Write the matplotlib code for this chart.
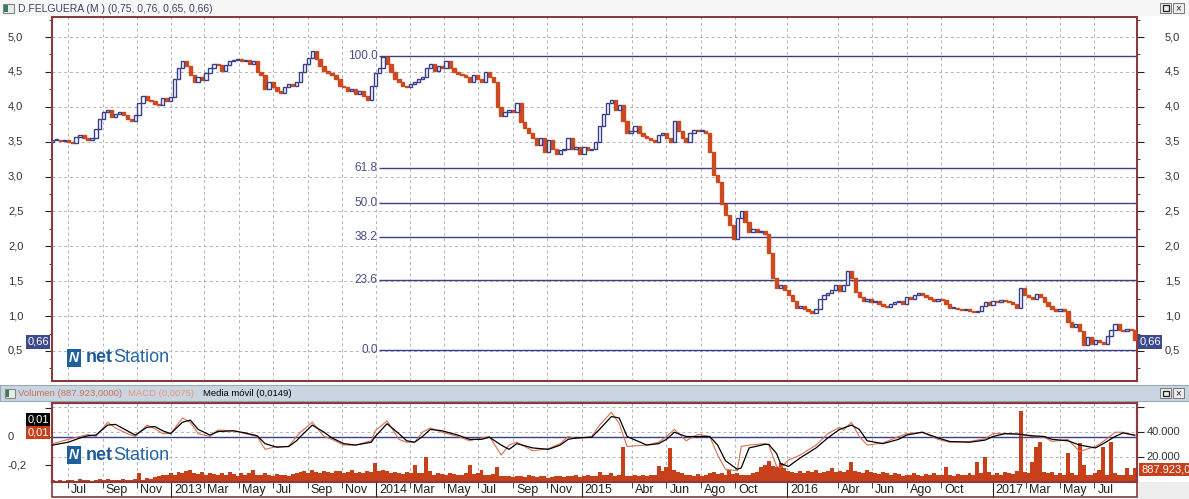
import numpy as np
import pandas as pd
import matplotlib
matplotlib.use('Agg')
import matplotlib.pyplot as plt
import matplotlib.dates as mdates
import matplotlib.transforms as mtrans
from matplotlib.patches import Rectangle

plt.rcParams['font.family'] = ['Liberation Sans', 'DejaVu Sans']

# weekly closes (Jun 2012 - Sep 2017)
close = [3.52, 3.53, 3.51, 3.53, 3.50, 3.48, 3.56, 3.60, 3.55, 3.52,
         3.55, 3.68, 3.83, 3.92, 3.95, 3.85, 3.90, 3.93, 3.88, 3.83,
         3.80, 3.88, 4.05, 4.15, 4.10, 4.08, 4.04, 4.02, 4.12, 4.08,
         4.14, 4.40, 4.55, 4.66, 4.58, 4.45, 4.35, 4.42, 4.38, 4.48,
         4.55, 4.62, 4.60, 4.52, 4.60, 4.66, 4.67, 4.68, 4.66, 4.67,
         4.62, 4.65, 4.50, 4.45, 4.25, 4.35, 4.28, 4.22, 4.20, 4.28,
         4.32, 4.30, 4.35, 4.50, 4.62, 4.70, 4.80, 4.68, 4.58, 4.52,
         4.48, 4.45, 4.40, 4.30, 4.28, 4.22, 4.25, 4.18, 4.22, 4.15,
         4.10, 4.30, 4.48, 4.55, 4.72, 4.62, 4.50, 4.40, 4.35, 4.30,
         4.28, 4.32, 4.36, 4.40, 4.42, 4.55, 4.62, 4.52, 4.58, 4.55,
         4.65, 4.55, 4.50, 4.47, 4.45, 4.42, 4.35, 4.45, 4.40, 4.36,
         4.50, 4.42, 4.35, 4.00, 3.87, 3.92, 3.95, 3.93, 4.05, 3.78,
         3.70, 3.62, 3.55, 3.45, 3.55, 3.35, 3.52, 3.40, 3.33, 3.38,
         3.40, 3.55, 3.40, 3.42, 3.33, 3.42, 3.38, 3.40, 3.50, 3.72,
         3.90, 4.05, 4.10, 3.95, 4.02, 3.80, 3.62, 3.65, 3.72, 3.62,
         3.58, 3.55, 3.52, 3.50, 3.60, 3.62, 3.55, 3.50, 3.80, 3.65,
         3.55, 3.50, 3.62, 3.67, 3.65, 3.66, 3.62, 3.35, 3.02, 2.92,
         2.60, 2.45, 2.30, 2.10, 2.40, 2.50, 2.35, 2.20, 2.25, 2.20,
         2.22, 2.18, 1.90, 1.55, 1.40, 1.45, 1.38, 1.30, 1.22, 1.12,
         1.15, 1.10, 1.08, 1.05, 1.10, 1.25, 1.30, 1.33, 1.38, 1.45,
         1.36, 1.45, 1.65, 1.55, 1.35, 1.28, 1.22, 1.25, 1.20, 1.22,
         1.18, 1.15, 1.13, 1.18, 1.20, 1.22, 1.18, 1.28, 1.25, 1.30,
         1.33, 1.30, 1.27, 1.25, 1.22, 1.24, 1.23, 1.18, 1.12, 1.12,
         1.10, 1.09, 1.10, 1.08, 1.06, 1.07, 1.15, 1.20, 1.16, 1.22,
         1.20, 1.23, 1.22, 1.20, 1.18, 1.12, 1.40, 1.30, 1.27, 1.25,
         1.32, 1.28, 1.20, 1.15, 1.10, 1.08, 1.10, 1.08, 0.92, 0.85,
         0.88, 0.78, 0.58, 0.70, 0.60, 0.66, 0.63, 0.60, 0.72, 0.80,
         0.88, 0.80, 0.78, 0.82, 0.80, 0.66]
first_open = 3.50

volume = [1500, 1200, 1800, 1000, 2000, 1500, 1200, 2500, 1800, 1500,
          1200, 2000, 2500, 1800, 2200, 1500, 2000, 1800, 2500, 2000,
          1800, 2500, 7000, 2000, 3000, 2500, 4000, 5000, 6000, 5500,
          7000, 6000, 8000, 7500, 9000, 10000, 7000, 6500, 8000, 6000,
          7000, 6500, 5500, 7000, 6000, 8000, 6500, 5000, 7000, 6000,
          7500, 10000, 6000, 5500, 7000, 6000, 5000, 6500, 5500, 6000,
          5000, 6500, 7000, 8000, 9000, 7500, 10000, 8000, 7000, 9000,
          8000, 7500, 9000, 8500, 7000, 8000, 9500, 7000, 8000, 7500,
          9000, 8000, 15000, 8500, 10000, 9000, 7500, 8000, 7000, 6500,
          8000, 7000, 14000, 7500, 7000, 20000, 9000, 6000, 7000, 6500,
          6000, 7000, 6500, 5500, 6000, 7000, 14000, 6500, 7000, 10000,
          6000, 5500, 6500, 12000, 5000, 4500, 5000, 4000, 4500, 5000,
          4000, 5500, 4500, 4000, 5000, 4500, 3500, 4000, 5000, 4500,
          4000, 5000, 4500, 5500, 4000, 5000, 6000, 4500, 5000, 8000,
          5500, 6000, 7000, 5000, 6000, 28000, 5000, 4500, 5500, 5000,
          6000, 5000, 5500, 6000, 13000, 9000, 12000, 27000, 10000, 8000,
          7000, 6000, 5500, 5000, 6500, 5000, 6000, 7000, 8000, 6500,
          7000, 6000, 10000, 6500, 7000, 6000, 5500, 6000, 7000, 8000,
          12000, 14000, 17000, 13000, 12000, 15000, 11000, 9000, 8000, 7000,
          8500, 7000, 9000, 8000, 10000, 7500, 8000, 9000, 11000, 8000,
          9000, 8000, 10000, 16000, 9000, 8000, 7000, 9500, 8000, 7000,
          6500, 8000, 7000, 6000, 7500, 6500, 5000, 6000, 5500, 7000,
          6000, 5000, 6500, 5500, 7000, 6000, 5500, 12000, 6000, 5000,
          6500, 5500, 6000, 7000, 6000, 16000, 7000, 20000, 8000, 6000,
          7000, 6000, 8000, 7000, 6500, 9000, 57000, 8000, 7000, 16000,
          28000, 32000, 8000, 7000, 8000, 6000, 7000, 6000, 23000, 7000,
          6000, 31000, 14000, 6000, 5500, 7000, 10000, 28000, 6000, 32000,
          7000, 6000, 5500, 11000, 6000, 11000]

# MACD and its moving average, sampled at these week numbers
macd_week = [0, 4, 7, 9, 11, 14, 16, 19, 21, 24,
             26, 28, 30, 33, 35, 37, 40, 42, 46, 49,
             52, 54, 57, 60, 62, 63, 66, 69, 71, 74,
             77, 81, 82, 85, 88, 90, 92, 94, 96, 99,
             103, 106, 109, 111, 114, 116, 118, 122, 126, 129,
             131, 133, 137, 139, 142, 144, 146, 151, 154, 156,
             158, 161, 164, 167, 169, 171, 174, 175, 177, 181,
             182, 184, 185, 187, 190, 194, 197, 200, 201, 203,
             205, 207, 211, 215, 217, 221, 225, 228, 233, 237,
             239, 242, 245, 249, 252, 254, 258, 261, 265, 267,
             270, 272, 275]
macd_line = [-0.05, -0.02, 0.0, 0.015, 0.0, 0.10, 0.06, 0.02, 0.0, 0.08,
             0.055, 0.02, 0.02, 0.13, 0.10, 0.02, 0.0, 0.045, 0.04, 0.02,
             0.0, -0.09, -0.07, -0.07, 0.0, 0.03, 0.10, 0.0, -0.02, -0.06,
             -0.06, -0.03, 0.04, 0.11, -0.02, -0.04, -0.04, 0.03, 0.06, 0.03,
             0.0, -0.03, -0.01, 0.0, -0.13, -0.06, -0.04, -0.10, -0.085, -0.05,
             0.0, -0.015, 0.0, 0.08, 0.17, 0.09, -0.07, -0.06, -0.04, 0.0,
             0.05, -0.03, 0.015, 0.0, -0.13, -0.23, -0.24, -0.07, -0.06, -0.05,
             -0.06, -0.21, -0.22, -0.165, -0.13, -0.06, 0.02, 0.065, 0.045, 0.10,
             0.0, -0.06, -0.045, 0.0, 0.02, 0.03, -0.02, -0.04, -0.035, -0.015,
             0.02, 0.02, 0.015, 0.0, -0.005, -0.035, -0.02, -0.105, -0.07, -0.035,
             0.03, 0.03, 0.005]
macd_signal = [-0.06, -0.04, -0.01, 0.005, 0.01, 0.08, 0.085, 0.04, 0.01, 0.065,
               0.07, 0.04, 0.02, 0.10, 0.115, 0.05, 0.01, 0.035, 0.04, 0.025,
               0.005, -0.05, -0.075, -0.07, -0.03, 0.0, 0.08, 0.03, -0.01, -0.05,
               -0.06, -0.04, 0.0, 0.09, 0.02, -0.03, -0.04, 0.0, 0.05, 0.04,
               0.01, -0.02, -0.02, -0.005, -0.06, -0.09, -0.05, -0.08, -0.09, -0.06,
               -0.02, -0.01, -0.005, 0.05, 0.14, 0.13, 0.0, -0.06, -0.05, -0.02,
               0.03, 0.0, 0.0, 0.0, -0.06, -0.17, -0.23, -0.22, -0.08, -0.055,
               -0.055, -0.12, -0.19, -0.21, -0.15, -0.08, -0.01, 0.05, 0.06, 0.08,
               0.05, -0.03, -0.05, -0.02, 0.01, 0.03, -0.01, -0.035, -0.04, -0.025,
               0.0, 0.02, 0.018, 0.005, 0.0, -0.02, -0.03, -0.06, -0.08, -0.05,
               0.0, 0.025, 0.01]

fib_levels = [0.0, 23.6, 38.2, 50.0, 61.8, 100.0]
fib_low, fib_high = 0.52, 4.73
fib_start = '2014-01-06'

tick_months = ['2012-07-01', '2012-09-01', '2012-11-01', '2013-01-01', '2013-03-01',
               '2013-05-01', '2013-07-01', '2013-09-01', '2013-11-01', '2014-01-01',
               '2014-03-01', '2014-05-01', '2014-07-01', '2014-09-01', '2014-11-01',
               '2015-01-01', '2015-04-01', '2015-06-01', '2015-08-01', '2015-10-01',
               '2016-01-01', '2016-04-01', '2016-06-01', '2016-08-01', '2016-10-01',
               '2017-01-01', '2017-03-01', '2017-05-01', '2017-07-01']
tick_labels = ['Jul', 'Sep', 'Nov', '2013', 'Mar', 'May', 'Jul', 'Sep', 'Nov', '2014',
               'Mar', 'May', 'Jul', 'Sep', 'Nov', '2015', 'Abr', 'Jun', 'Ago', 'Oct',
               '2016', 'Abr', 'Jun', 'Ago', 'Oct', '2017', 'Mar', 'May', 'Jul']

title = 'D.FELGUERA (M ) (0,75, 0,76, 0,65, 0,66)'
last_price = '0,66'

orange = '#cc4a1e'
navy = '#3b3f8a'
maroon = '#8a3b3b'
gridc = '#b4b4b4'
dash = (0, (3, 3))

W, H = 1189, 499
fig = plt.figure(figsize=(W / 100, H / 100), dpi=100)
fig.patch.set_facecolor('white')


def box(x0, y0, x1, y1):
    return [x0 / W, 1 - y1 / H, (x1 - x0) / W, (y1 - y0) / H]


def prect(x0, y0, x1, y1, **kw):
    fig.add_artist(Rectangle((x0 / W, 1 - y1 / H), (x1 - x0) / W, (y1 - y0) / H,
                             transform=fig.transFigure, **kw))


def ptext(x, y, s, **kw):
    return fig.text(x / W, 1 - y / H, s, **kw)


def comma(v, nd=1):
    return f'{v:.{nd}f}'.replace('.', ',')


dates = pd.date_range('2012-06-04', periods=len(close), freq='7D')
xd = mdates.date2num(dates)
close = np.array(close)
opens = np.r_[first_open, close[:-1]]
xmin, xmax = mdates.datestr2num('2012-06-03'), mdates.datestr2num('2017-09-15')
ticks = mdates.datestr2num(tick_months)
is_year = np.array([lab.isdigit() for lab in tick_labels])

# ---------------- frames / bars ----------------
prect(0, 0, W, 16, facecolor='#f6f6f6', edgecolor='none')
prect(3, 4, 14, 13, facecolor='#e8ece8', edgecolor='#7a8a80', lw=0.8)
prect(4, 5, 8, 12, facecolor='#3d7a66', edgecolor='none')
ptext(18, 8.5, title, fontsize=7.5, color='#3c4466', va='center', ha='left')
for bx, sym in [(1160, ''), (1173, '×')]:
    prect(bx, 3, bx + 11, 13, facecolor='#ececec', edgecolor='#777777', lw=0.7)
    if sym:
        ptext(bx + 5.5, 8, sym, fontsize=7, ha='center', va='center', color='#222222')
prect(1162.5, 5.5, 1168.5, 10.5, facecolor='none', edgecolor='#222222', lw=0.9)

prect(0, 385, W, 401, facecolor='#c9d5e0', edgecolor='#9aa8b4', lw=0.8)
prect(5, 389, 15, 398, facecolor='#e8ece8', edgecolor='#7a8a80', lw=0.8)
prect(6, 390, 9, 397, facecolor='#3d7a66', edgecolor='none')
ptext(18, 393.5, 'Volumen (887.923,0000)', fontsize=6.8, color='#c8705c', va='center')
ptext(128, 393.5, 'MACD (0,0075)', fontsize=6.8, color='#e89478', va='center')
ptext(203, 393.5, 'Media móvil (0,0149)', fontsize=6.8, color='black', va='center')
for bx, sym in [(1160, ''), (1173, '×')]:
    prect(bx, 388, bx + 11, 398, facecolor='#ececec', edgecolor='#777777', lw=0.7)
    if sym:
        ptext(bx + 5.5, 393, sym, fontsize=7, ha='center', va='center', color='#222222')
prect(1162.5, 390.5, 1168.5, 395.5, facecolor='none', edgecolor='#222222', lw=0.9)

prect(1137, 482, W, H, facecolor='#eeeeee', edgecolor='none')
prect(52, 482, 1137, 497, facecolor='white', edgecolor=maroon, lw=1.2)

# ---------------- price panel ----------------
ax = fig.add_axes(box(52, 17, 1137, 381))
ax.set_xlim(xmin, xmax)
ax.set_ylim(0.07, 5.287)
for t in ticks:
    ax.axvline(t, color=gridc, lw=0.7, ls=dash, zorder=0)
for v in np.arange(0.5, 5.01, 0.5):
    ax.axhline(v, color=gridc, lw=0.7, ls=dash, zorder=0)

down = close < opens
lo = np.minimum(opens, close)
hgt = np.maximum(np.abs(close - opens), 0.015)
ax.bar(xd[down], hgt[down], bottom=lo[down], width=6, color=orange,
       edgecolor=orange, lw=1.0, zorder=3)
ax.bar(xd[~down], hgt[~down], bottom=lo[~down], width=6, color='white',
       edgecolor=navy, lw=1.0, zorder=3)

fstart = mdates.datestr2num(fib_start)
for lvl in fib_levels:
    p = fib_low + (fib_high - fib_low) * lvl / 100
    ax.hlines(p, fstart, xmax, color=navy, lw=1.0, zorder=2)
    ax.text(fstart - 3, p, f'{lvl:.1f}', ha='right', va='center', fontsize=8.5,
            color='#4a4f8a', zorder=4)

ax.set_xticks(ticks)
ax.tick_params(axis='x', length=0, labelbottom=False)
ax.set_yticks(np.arange(0.5, 5.01, 0.5))
ax.set_yticks(np.arange(0.25, 5.26, 0.25), minor=True)
ax.tick_params(axis='y', which='both', left=True, right=True, labelleft=False,
               direction='out', color='#222222')
ax.tick_params(axis='y', which='major', length=5)
ax.tick_params(axis='y', which='minor', length=2.5)
for s in ax.spines.values():
    s.set_color(maroon)
    s.set_linewidth(1.5)

ylab = mtrans.blended_transform_factory(fig.transFigure, ax.transData)
for v in np.arange(0.5, 5.01, 0.5):
    ax.text(8 / W, v, comma(v), transform=ylab, ha='left', va='center', fontsize=8, color='#333333')
    ax.text(1180 / W, v, comma(v), transform=ylab, ha='right', va='center', fontsize=8, color='#333333')

lbl = dict(fontsize=8, color='white', va='center')
ptext(38, 342, last_price, ha='center',
      bbox=dict(boxstyle='square,pad=0.15', fc='#3b4a8c', ec='none'), **lbl)
ptext(1150, 342, last_price, ha='center',
      bbox=dict(boxstyle='square,pad=0.15', fc='#3b4a8c', ec='none'), **lbl)


def logo(x, y):
    ptext(x + 8, y, 'N', fontsize=10, fontweight='bold', style='italic', color='white',
          ha='center', va='center',
          bbox=dict(boxstyle='square,pad=0.12', fc='#1f5fa0', ec='none'))
    t = ptext(x + 20, y, 'net', fontsize=13, fontweight='bold', color='#1f5c99', va='center')
    fig.canvas.draw()
    bb = t.get_window_extent()
    fig.text((bb.x1 + 0.5) / W, 1 - y / H, 'Station', fontsize=13, color='#2565a3', va='center')


# ---------------- MACD / volume panel ----------------
axb = fig.add_axes(box(52, 403, 1137, 482))
axv = axb.twinx()
axb.set_zorder(axv.get_zorder() + 1)
axb.patch.set_visible(False)
axb.set_xlim(xmin, xmax)
axb.set_ylim(-0.319, 0.235)
axv.set_ylim(0, 63200)

for t in ticks:
    axv.axvline(t, color=gridc, lw=0.7, ls=dash, zorder=0)
for v in [20000, 40000, 60000]:
    axv.axhline(v, color=gridc, lw=0.7, ls=dash, zorder=0)
axv.bar(xd, volume, width=7, color='#c8401a', lw=0, zorder=2)
axv.set_yticks([20000, 40000, 60000])
axv.tick_params(axis='y', right=True, labelright=False, length=5, direction='out', color='#222222')

mx = xd[macd_week]
axb.axhline(0, color=navy, lw=1.0, zorder=1)
axb.plot(mx, macd_line, color='#d8704e', lw=0.8, zorder=3)
axb.plot(mx, macd_signal, color='black', lw=0.9, zorder=4)
axb.set_yticks([0.2, 0.0, -0.2])
axb.tick_params(axis='y', left=True, labelleft=False, length=5, direction='out', color='#222222')

axb.set_xticks(ticks[is_year])
axb.set_xticks(ticks[~is_year], minor=True)
axb.tick_params(axis='x', which='major', length=11, direction='out', color='#222222', labelbottom=False)
axb.tick_params(axis='x', which='minor', length=4, direction='out', color='#222222', labelbottom=False)
for a in (axb, axv):
    for s in a.spines.values():
        s.set_color(maroon)
        s.set_linewidth(1.5)

blab = mtrans.blended_transform_factory(fig.transFigure, axb.transData)
axb.text(8 / W, 0.0, '0', transform=blab, ha='left', va='center', fontsize=8, color='#333333')
axb.text(8 / W, -0.2, '-0,2', transform=blab, ha='left', va='center', fontsize=8, color='#333333')
vlab = mtrans.blended_transform_factory(fig.transFigure, axv.transData)
for v in [20000, 40000]:
    axv.text(1180 / W, v, f'{v:,}'.replace(',', '.'), transform=vlab, ha='right', va='center',
             fontsize=8, color='#333333')

xlab = mtrans.blended_transform_factory(axb.transData, fig.transFigure)
for t, lab in zip(ticks, tick_labels):
    axb.text(t + 5.5, 1 - 490 / H, lab, transform=xlab, ha='left', va='center', fontsize=9,
             color='#222222', clip_on=False)

ptext(38, 419.5, '0,01', ha='center',
      bbox=dict(boxstyle='square,pad=0.15', fc='black', ec='none'), **lbl)
ptext(38, 432.5, '0,01', ha='center',
      bbox=dict(boxstyle='square,pad=0.15', fc='#c8401a', ec='none'), **lbl)
ptext(1141, 469.5, '887.923,0', ha='left',
      bbox=dict(boxstyle='square,pad=0.15', fc='#c8401a', ec='none'), **lbl)

logo(66, 358)
logo(66, 455)

fig.savefig('out.png', dpi=100, facecolor='white')
